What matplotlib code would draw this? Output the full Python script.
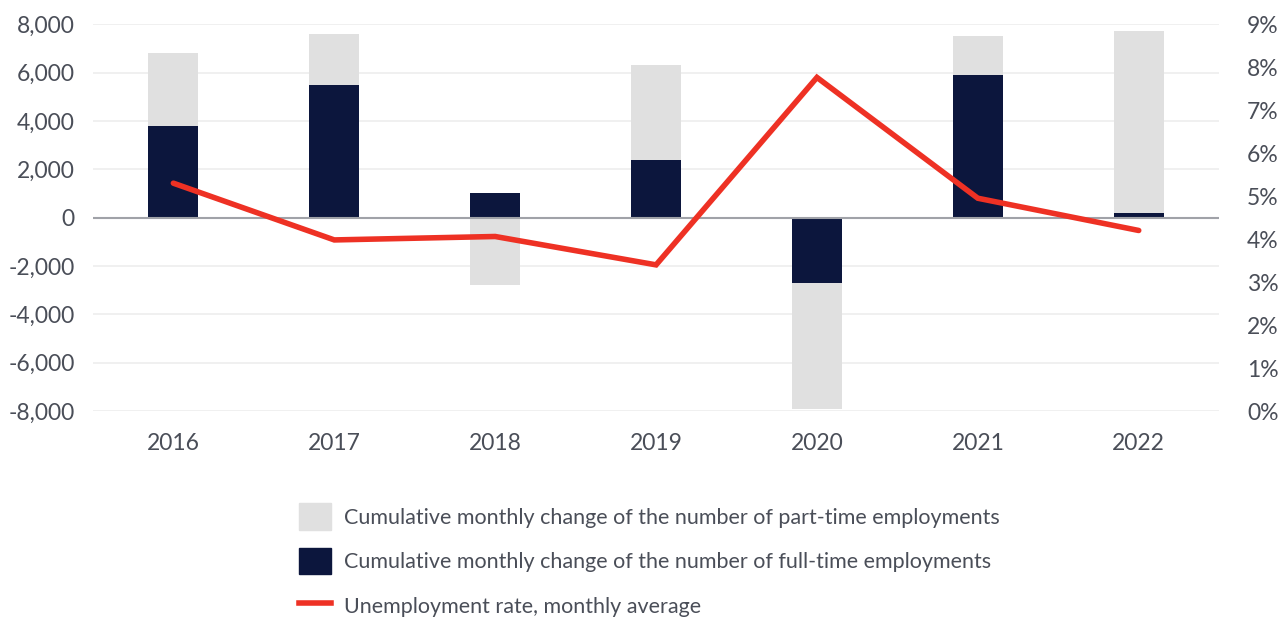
import numpy as np
import matplotlib.pyplot as plt
from matplotlib.patches import Patch
from matplotlib.lines import Line2D

plt.rcParams['font.family'] = ['Lato', 'DejaVu Sans']

# data
years = ['2016', '2017', '2018', '2019', '2020', '2021', '2022']
full_time = [3800, 5500, 1000, 2400, -2700, 5900, 200]
part_time = [3000, 2100, -2800, 3900, -5200, 1600, 7500]
unemployment = [5.3, 3.98, 4.06, 3.4, 7.76, 4.95, 4.2]

left_ticks = [-8000, -6000, -4000, -2000, 0, 2000, 4000, 6000, 8000]
right_ticks = [0, 1, 2, 3, 4, 5, 6, 7, 8, 9]

NAVY = '#0c163d'
GREY = '#e0e0e0'
RED = '#ee3124'
TEXT = '#4a4e58'

fig = plt.figure(figsize=(12.82, 6.19), dpi=100)
ax = fig.add_axes([0.0725, 0.336, 0.8785, 0.625])
x = np.arange(len(years))
w = 0.31

# part-time stacks on top of full-time (same sign) or below zero
part_bottom = [f if (p * f > 0) else 0 for f, p in zip(full_time, part_time)]
ax.bar(x, full_time, w, color=NAVY, zorder=3)
ax.bar(x, part_time, w, bottom=part_bottom, color=GREY, zorder=3)

ax.set_xlim(-0.5, len(years) - 0.5)
ax.set_ylim(-8000, 8000)
ax.set_yticks(left_ticks)
ax.set_yticklabels(['{:,}'.format(v) for v in left_ticks])
ax.set_xticks(x)
ax.set_xticklabels(years)
ax.grid(axis='y', color='#eeeeee', linewidth=1.2, zorder=0)
ax.axhline(0, color='#a0a2a8', linewidth=1.5, zorder=4)
for s in ax.spines.values():
    s.set_visible(False)
ax.tick_params(axis='both', length=0, labelsize=16.5, colors=TEXT)
ax.tick_params(axis='y', pad=13)
ax.tick_params(axis='x', pad=16)

ax2 = ax.twinx()
ax2.plot(x, unemployment, color=RED, linewidth=4, zorder=5,
         solid_capstyle='round', solid_joinstyle='miter')
ax2.set_ylim(0, 9)
ax2.set_yticks(right_ticks)
ax2.set_yticklabels(['{}%'.format(v) for v in right_ticks])
for s in ax2.spines.values():
    s.set_visible(False)
ax2.tick_params(axis='y', length=0, labelsize=16.5, colors=TEXT, pad=20)

handles = [Patch(color=GREY), Patch(color=NAVY),
           Line2D([], [], color=RED, linewidth=4)]
labels = ['Cumulative monthly change of the number of part-time employments',
          'Cumulative monthly change of the number of full-time employments',
          'Unemployment rate, monthly average']
leg = fig.legend(handles, labels, loc='upper left', bbox_to_anchor=(0.218, 0.218),
                 frameon=False, fontsize=15.5, handlelength=1.5, handleheight=1.5,
                 labelspacing=0.85, handletextpad=0.6)
for t in leg.get_texts():
    t.set_color(TEXT)

fig.savefig('out.png')
